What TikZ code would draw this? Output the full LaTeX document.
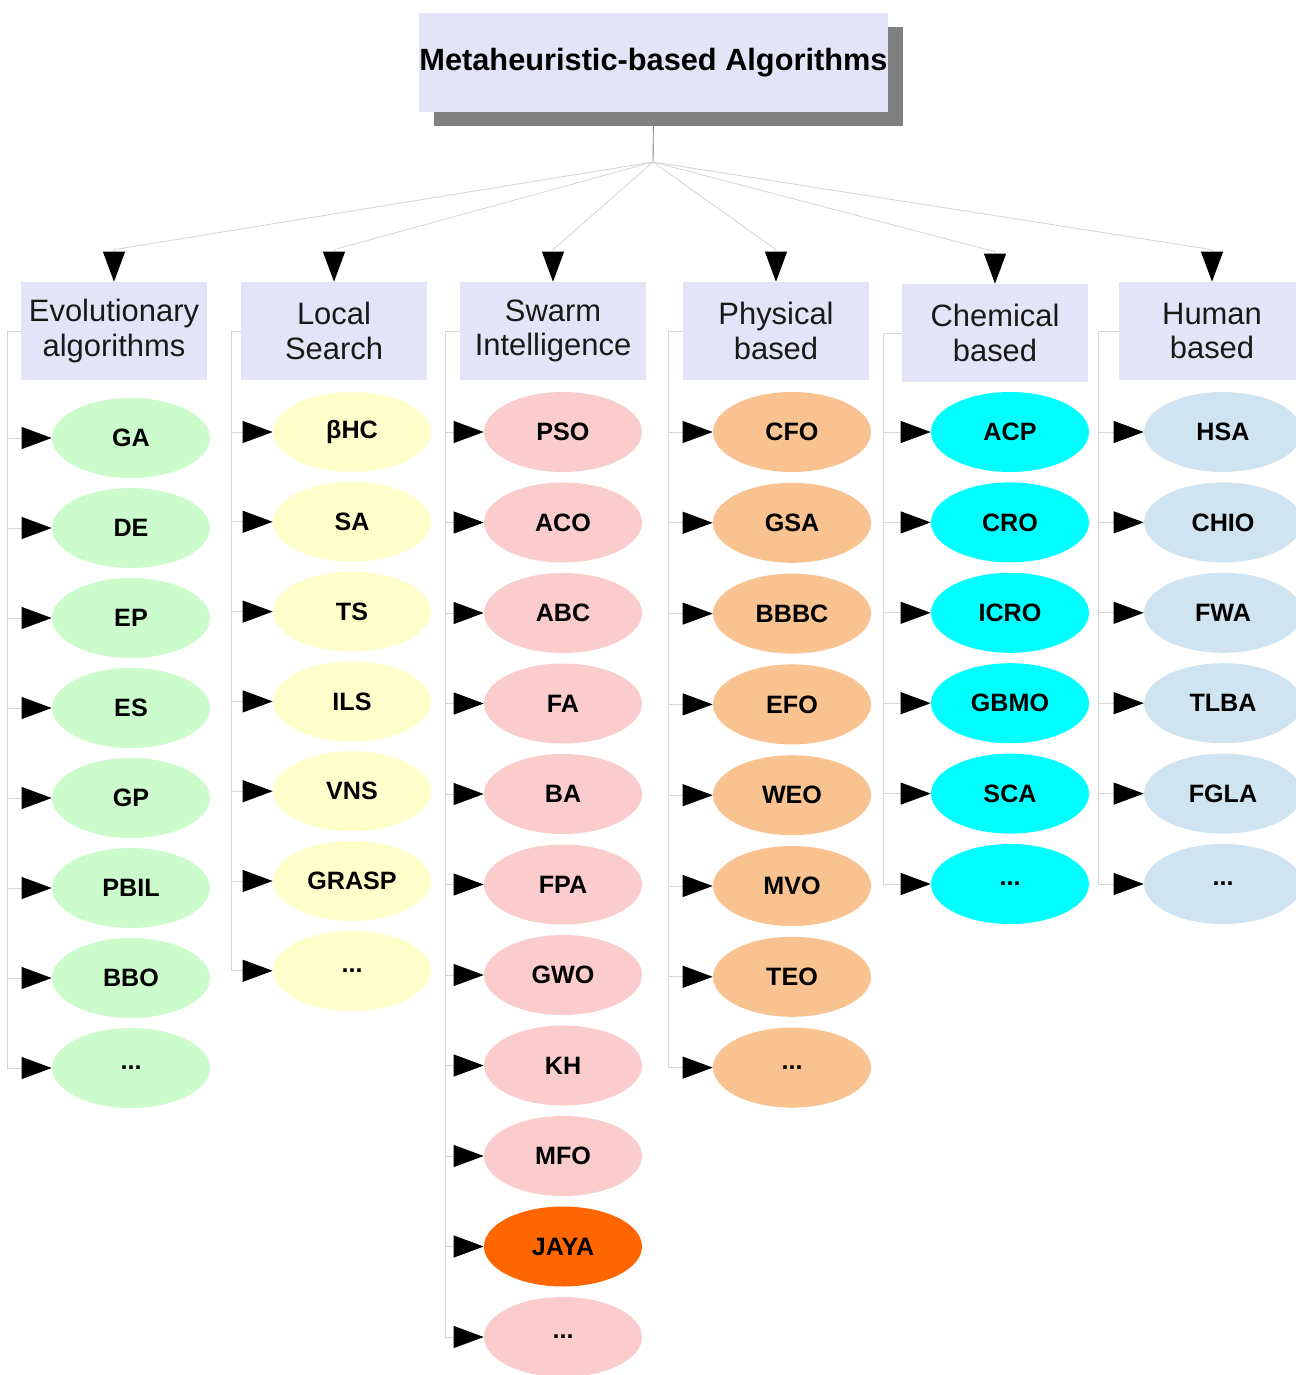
\documentclass[tikz,border=0pt]{standalone}
\usepackage{fontspec}
\setmainfont{Liberation Sans}
\usetikzlibrary{arrows.meta,shapes.geometric,shadows,calc}

\definecolor{lavender}{HTML}{E4E4F8}
\definecolor{evogreen}{HTML}{CCFCCC}
\definecolor{lsyellow}{HTML}{FFFFCC}
\definecolor{swpink}{HTML}{FACCCC}
\definecolor{phyorange}{HTML}{F9C291}
\definecolor{chemcyan}{HTML}{00FFFF}
\definecolor{humblue}{HTML}{CFE3F0}
\definecolor{jaya}{HTML}{FF6600}
\definecolor{wiregray}{HTML}{D6D6D6}

\newcommand\etcdots{...}

\tikzset{
  headbox/.style={fill=lavender, minimum width=9.34cm, minimum height=1.98cm, inner sep=0pt,
    drop shadow={shadow xshift=0.3cm, shadow yshift=-0.28cm, fill=black!50, opacity=1},
    font=\fontsize{17.5}{21}\selectfont\bfseries},
  family/.style={fill=lavender, minimum width=3.72cm, minimum height=1.96cm, inner sep=0pt,
    align=center, text=black!90, font=\fontsize{17.6}{19.6}\selectfont},
  algo/.style={ellipse, minimum width=3.16cm, minimum height=1.6cm, inner sep=0pt,
    font=\fontsize{14.3}{17}\selectfont\bfseries},
  wire/.style={draw=wiregray, line width=0.5pt},
  arrowhd/.style={-{Triangle[length=0.6cm,width=0.44cm,black]}},
}

\begin{document}
\begin{tikzpicture}[x=0.02cm,y=-0.02cm]
\useasboundingbox (0,0) rectangle (1295,1375);

% root
\node[headbox] (root) at (653.5,62.5) {Metaheuristic-based Algorithms};
\coordinate (hub) at (653,162);
\draw[draw=black!50, line width=0.5pt] (root.south) -- (hub);

% families
\node[family] (evo) at (114,331) {Evolutionary\\algorithms};
\node[family] (ls) at (334,331) {Local\\Search};
\node[family] (swarm) at (553,331) {Swarm\\Intelligence};
\node[family] (phys) at (776,331) {Physical\\based};
\node[family] (chem) at (995,333) {Chemical\\based};
\node[family] (hum) at (1212,331) {Human\\based};

\foreach \f in {evo,ls,swarm,phys,chem,hum}
  \draw[wire,arrowhd] (hub) -- ($(\f.north)+(0,-32)$) -- (\f.north);

% evolutionary
\foreach \name [count=\i] in {GA,DE,EP,ES,GP,PBIL,BBO,\etcdots}{
  \node[algo, fill=evogreen] (evo\i) at (131,{438+90*(\i-1)}) {\name};
  \draw[wire,arrowhd] (evo.west) -- ++(-13,0) |- (evo\i.west);
}

% local search
\foreach \name [count=\i] in {βHC,SA,TS,ILS,VNS,GRASP,\etcdots}{
  \node[algo, fill=lsyellow] (ls\i) at (352,{432+89.8*(\i-1)}) {\name};
  \draw[wire,arrowhd] (ls.west) -- ++(-9,0) |- (ls\i.west);
}

% swarm
\foreach \name/\col [count=\i] in {PSO/swpink,ACO/swpink,ABC/swpink,FA/swpink,BA/swpink,
    FPA/swpink,GWO/swpink,KH/swpink,MFO/swpink,JAYA/jaya,\etcdots/swpink}{
  \node[algo, fill=\col] (sw\i) at (563,{432+90.5*(\i-1)}) {\name};
  \draw[wire,arrowhd] (swarm.west) -- ++(-14,0) |- (sw\i.west);
}

% physical
\foreach \name [count=\i] in {CFO,GSA,BBBC,EFO,WEO,MVO,TEO,\etcdots}{
  \node[algo, fill=phyorange] (ph\i) at (792,{432+90.8*(\i-1)}) {\name};
  \draw[wire,arrowhd] (phys.west) -- ++(-14,0) |- (ph\i.west);
}

% chemical
\foreach \name [count=\i] in {ACP,CRO,ICRO,GBMO,SCA,\etcdots}{
  \node[algo, fill=chemcyan] (ch\i) at (1010,{432+90.4*(\i-1)}) {\name};
  \draw[wire,arrowhd] (chem.west) -- ++(-18,0) |- (ch\i.west);
}

% human
\foreach \name [count=\i] in {HSA,CHIO,FWA,TLBA,FGLA,\etcdots}{
  \node[algo, fill=humblue] (hu\i) at (1223,{432+90.4*(\i-1)}) {\name};
  \draw[wire,arrowhd] (hum.west) -- ++(-20,0) |- (hu\i.west);
}
\end{tikzpicture}
\end{document}
